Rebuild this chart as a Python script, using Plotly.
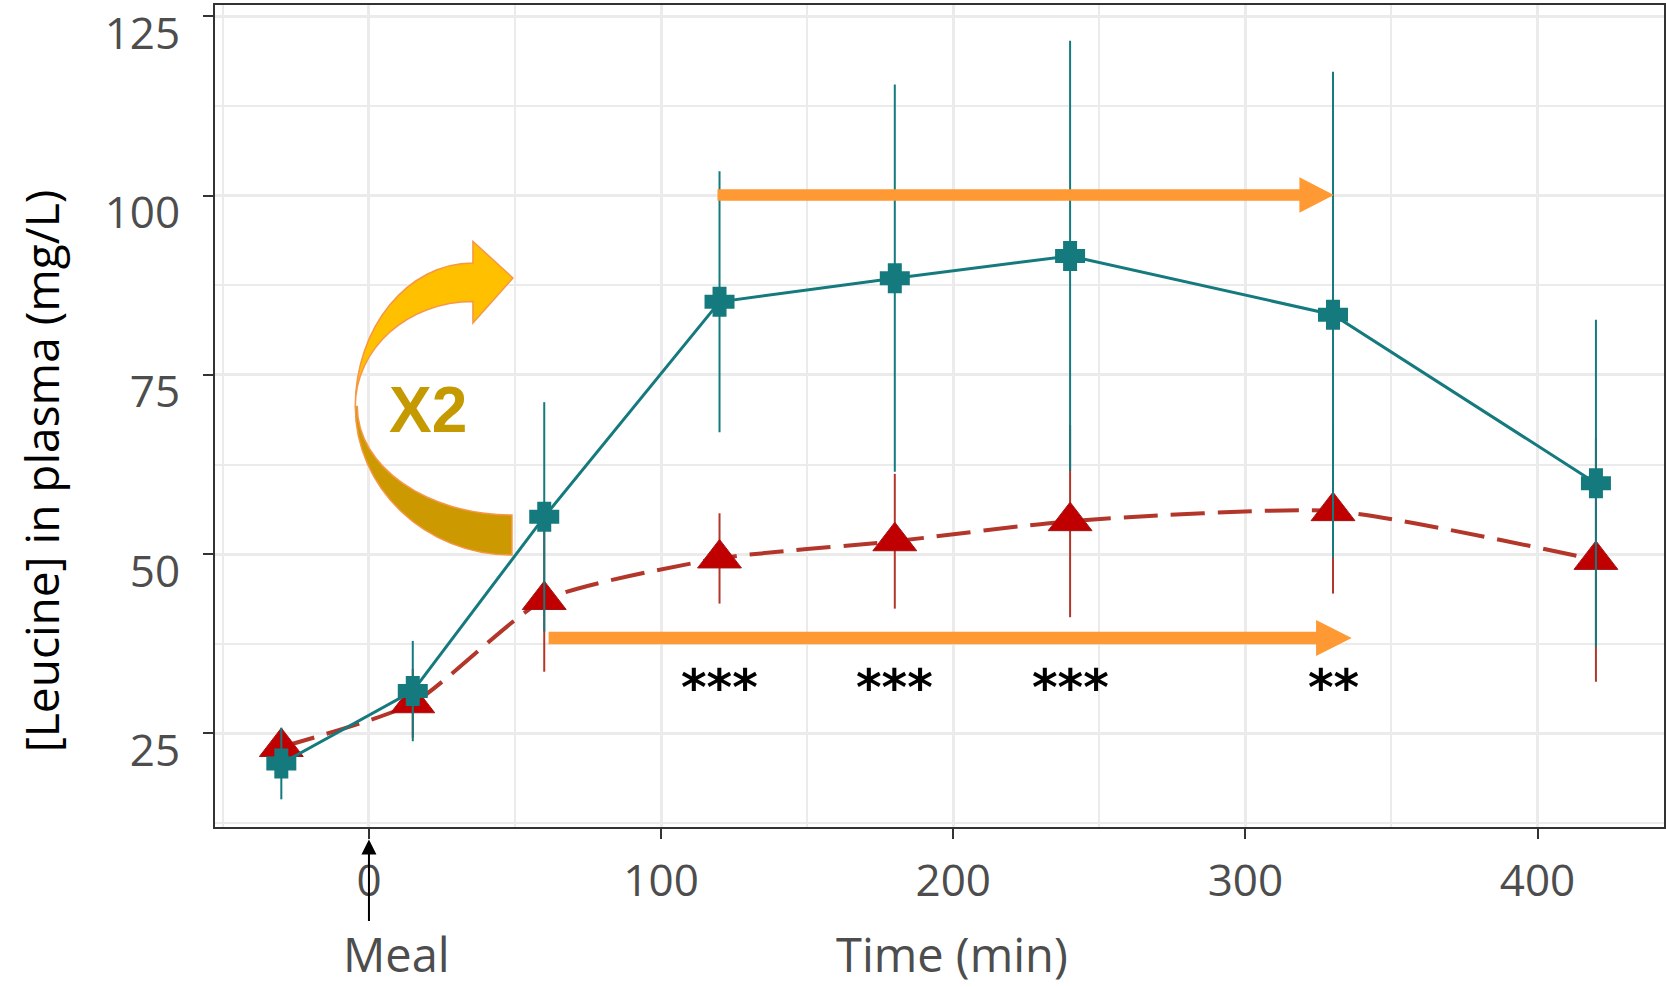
import plotly.graph_objects as go

# ---- data ----
time_min = [-30, 15, 60, 120, 180, 240, 330, 420]
teal_mean = [20.8, 30.9, 55.2, 85.2, 88.5, 91.6, 83.4, 59.9]
teal_sd = [5.0, 7.0, 16.0, 18.2, 27.0, 30.0, 33.9, 22.8]
red_mean = [23.1, 29.2, 43.6, 49.4, 51.8, 54.6, 56.0, 49.2]
red_sd = [2.0, 4.8, 10.0, 6.3, 9.4, 13.4, 11.5, 17.0]

star_x = [120, 180, 240, 330]
star_labels = ["***", "***", "***", "**"]

x_ticks = [0, 100, 200, 300, 400]
y_ticks = [25, 50, 75, 100, 125]

TEAL = "#157a7e"
RED_LINE = "#b3362b"
RED_MARK = "#c00000"
ORANGE = "#ff9933"
FONT = "Open Sans"

fig = go.Figure()

fig.add_trace(go.Scatter(
    x=time_min, y=red_mean, mode="lines+markers",
    line=dict(color=RED_LINE, width=4, dash="34px,13px", shape="spline", smoothing=0.6),
    marker=dict(symbol="triangle-up", size=38, color=RED_MARK,
                line=dict(color="#a31515", width=1)),
    error_y=dict(type="data", array=red_sd, visible=True, color=RED_LINE, thickness=2, width=0),
    showlegend=False,
))

fig.add_trace(go.Scatter(
    x=time_min, y=teal_mean, mode="lines+markers",
    line=dict(color=TEAL, width=3),
    marker=dict(symbol="cross", size=20, color=TEAL, line=dict(color=TEAL, width=6)),
    error_y=dict(type="data", array=teal_sd, visible=True, color=TEAL, thickness=2, width=0),
    showlegend=False,
))

# ---- straight orange arrows (data units) ----
def h_arrow(x0, x_head, x_tip, yc, half_shaft, half_head):
    return (f"M {x0},{yc-half_shaft} L {x_head},{yc-half_shaft} L {x_head},{yc-half_head} "
            f"L {x_tip},{yc} L {x_head},{yc+half_head} L {x_head},{yc+half_shaft} "
            f"L {x0},{yc+half_shaft} Z")

shapes = [
    dict(type="path", xref="x", yref="y", layer="above",
         path=h_arrow(119.3, 318.5, 330.3, 100.1, 0.8, 2.47),
         fillcolor=ORANGE, line=dict(width=0)),
    dict(type="path", xref="x", yref="y", layer="above",
         path=h_arrow(61.5, 324.2, 336.4, 38.3, 0.88, 2.5),
         fillcolor=ORANGE, line=dict(width=0)),
    # curved "X2" arrow: upper (light gold) part
    dict(type="path", xref="x", yref="y", layer="above",
         path=("M -4.69,70.59 C -4.69,81.65 13.35,90.61 35.59,90.61 "
               "L 35.59,93.63 L 49.28,88.52 L 35.59,82.24 L 35.59,85.25 "
               "C 13.35,85.25 -4.69,78.69 -4.69,70.59 Z"),
         fillcolor="#ffc000", line=dict(color="#f79646", width=1.5)),
    # lower (dark gold) part
    dict(type="path", xref="x", yref="y", layer="above",
         path=("M -4.69,70.59 C -4.69,59.19 19.34,49.87 48.94,49.87 "
               "L 48.94,55.46 C 19.71,55.46 -4.0,62.24 -4.0,70.59 Z"),
         fillcolor="#cc9900", line=dict(color="#f79646", width=1.5)),
]

annotations = [
    dict(x=20.1, y=70.1, xref="x", yref="y", text="<b>X2</b>", showarrow=False,
         font=dict(family="Liberation Sans", size=64, color="#c49a00")),
    dict(x=-0.12, y=0.433, xref="paper", yref="paper", text="[Leucine] in plasma (mg/L)",
         textangle=-90, showarrow=False, xanchor="center", yanchor="middle",
         font=dict(family=FONT, size=46, color="#000000")),
    dict(x=9.3, y=-0.155, xref="x", yref="paper", text="Meal", showarrow=False,
         xanchor="center", yanchor="middle", font=dict(family=FONT, size=47, color="#4d4d4d")),
    dict(x=199.5, y=-0.155, xref="x", yref="paper", text="Time (min)", showarrow=False,
         xanchor="center", yanchor="middle", font=dict(family=FONT, size=47, color="#4d4d4d")),
    dict(x=0, y=-0.0151, xref="x", yref="paper", text="", showarrow=True,
         ax=0, ay=83, arrowhead=2, arrowsize=1.5, arrowwidth=2, arrowcolor="#000000"),
]
for sx, lab in zip(star_x, star_labels):
    annotations.append(dict(x=sx, y=31.3, xref="x", yref="y", text=f"<b>{lab}</b>",
                            showarrow=False, xanchor="center", yanchor="middle",
                            font=dict(family="DejaVu Sans", size=49, color="#000000")))

axis_common = dict(
    showline=True, linecolor="#333333", linewidth=2, mirror=True,
    showgrid=True, gridcolor="#ebebeb", gridwidth=2.5, zeroline=False,
    ticks="outside", ticklen=10, tickwidth=2, tickcolor="#333333",
    tickfont=dict(family=FONT, size=44, color="#4d4d4d"),
    automargin=False, ticklabeloverflow="allow",
)

fig.update_layout(
    width=1666, height=987,
    margin=dict(l=215, r=2, t=5, b=160),
    paper_bgcolor="white", plot_bgcolor="white",
    shapes=shapes, annotations=annotations,
    xaxis=dict(range=[-52.7, 443.3], tickvals=x_ticks, ticklabelstandoff=4,
               minor=dict(dtick=50, tick0=0, showgrid=True, gridcolor="#ebebeb", gridwidth=2),
               **axis_common),
    yaxis=dict(range=[11.94, 126.6], tickvals=y_ticks, ticklabelstandoff=14, ticklabelshift=17,
               minor=dict(dtick=12.5, tick0=0, showgrid=True, gridcolor="#ebebeb", gridwidth=2),
               **axis_common),
)

fig.write_html("out.html", config={"displayModeBar": False},
               post_script="document.body.style.margin='0';document.body.style.overflow='hidden';")
